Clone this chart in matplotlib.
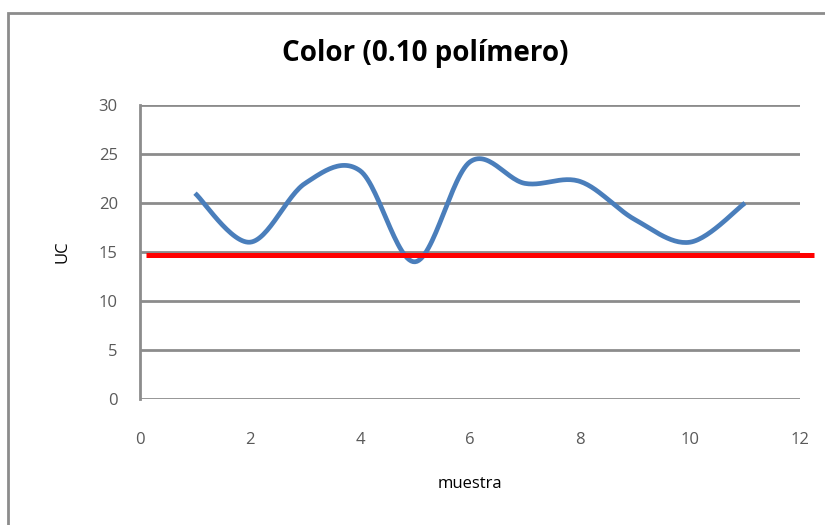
import numpy as np
import matplotlib.pyplot as plt
from matplotlib.patches import Rectangle

# data
muestra = [1, 2, 3, 4, 5, 6, 7, 8, 9, 10, 11]
uc = [21.0, 16.0, 22.0, 23.3, 14.0, 24.2, 22.0, 22.2, 18.3, 16.0, 20.0]
limite = 14.7
limite_x = [0.1, 12.25]
yticks = [0, 5, 10, 15, 20, 25, 30]
xticks = [0, 2, 4, 6, 8, 10, 12]


# Excel-like smoothed line (cubic bezier through the points)
def smooth(x, y, n=30):
    x = np.asarray(x, float)
    y = np.asarray(y, float)
    px = np.concatenate([[x[0]], x, [x[-1]]])
    py = np.concatenate([[y[0]], y, [y[-1]]])
    xs, ys = [], []
    t = np.linspace(0, 1, n)
    for i in range(1, len(px) - 2):
        p0 = np.array([px[i], py[i]])
        p3 = np.array([px[i + 1], py[i + 1]])
        p1 = p0 + (np.array([px[i + 1], py[i + 1]]) - np.array([px[i - 1], py[i - 1]])) / 6
        p2 = p3 - (np.array([px[i + 2], py[i + 2]]) - np.array([px[i], py[i]])) / 6
        b = ((1 - t) ** 3)[:, None] * p0 + (3 * (1 - t) ** 2 * t)[:, None] * p1 \
            + (3 * (1 - t) * t ** 2)[:, None] * p2 + (t ** 3)[:, None] * p3
        xs.extend(b[:, 0])
        ys.extend(b[:, 1])
    return xs, ys


plt.rcParams['font.family'] = ['Open Sans', 'DejaVu Sans']

fig = plt.figure(figsize=(8.25, 5.25), dpi=100)
fig.patches.append(Rectangle((8 / 825, -0.1), 1.2, 1 - 13 / 525 + 0.1,
                             transform=fig.transFigure, fill=False,
                             edgecolor='#8c8c8c', linewidth=2))

ax = fig.add_axes([140 / 825, 1 - 399 / 525, 660 / 825, 294 / 525])
ax.set_xlim(0, 12)
ax.set_ylim(0, 30)
ax.set_xticks(xticks)
ax.set_yticks(yticks)
ax.yaxis.grid(True, color='#8c8c8c', linewidth=2)
ax.set_axisbelow(True)
for s in ['top', 'right', 'bottom']:
    ax.spines[s].set_visible(False)
ax.spines['left'].set_color('#8c8c8c')
ax.spines['left'].set_linewidth(2)
ax.tick_params(length=0, labelsize=12, labelcolor='#595959')
ax.tick_params(axis='x', pad=24)
ax.tick_params(axis='y', pad=16)

sx, sy = smooth(muestra, uc)
ax.plot(sx, sy, color='#4a7ebb', linewidth=3.4, solid_capstyle='butt')
ax.plot(limite_x, [limite, limite], color='#ff0000', linewidth=3.6,
        clip_on=False, solid_capstyle='butt')

fig.text(425 / 825, 1 - 54 / 525, 'Color (0.10 polímero)', fontsize=20,
         fontweight='bold', ha='center', va='center')
ax.set_xlabel('muestra', fontsize=12, labelpad=20)
ax.set_ylabel('UC', fontsize=12, labelpad=20)

fig.savefig('out.png', dpi=100)
